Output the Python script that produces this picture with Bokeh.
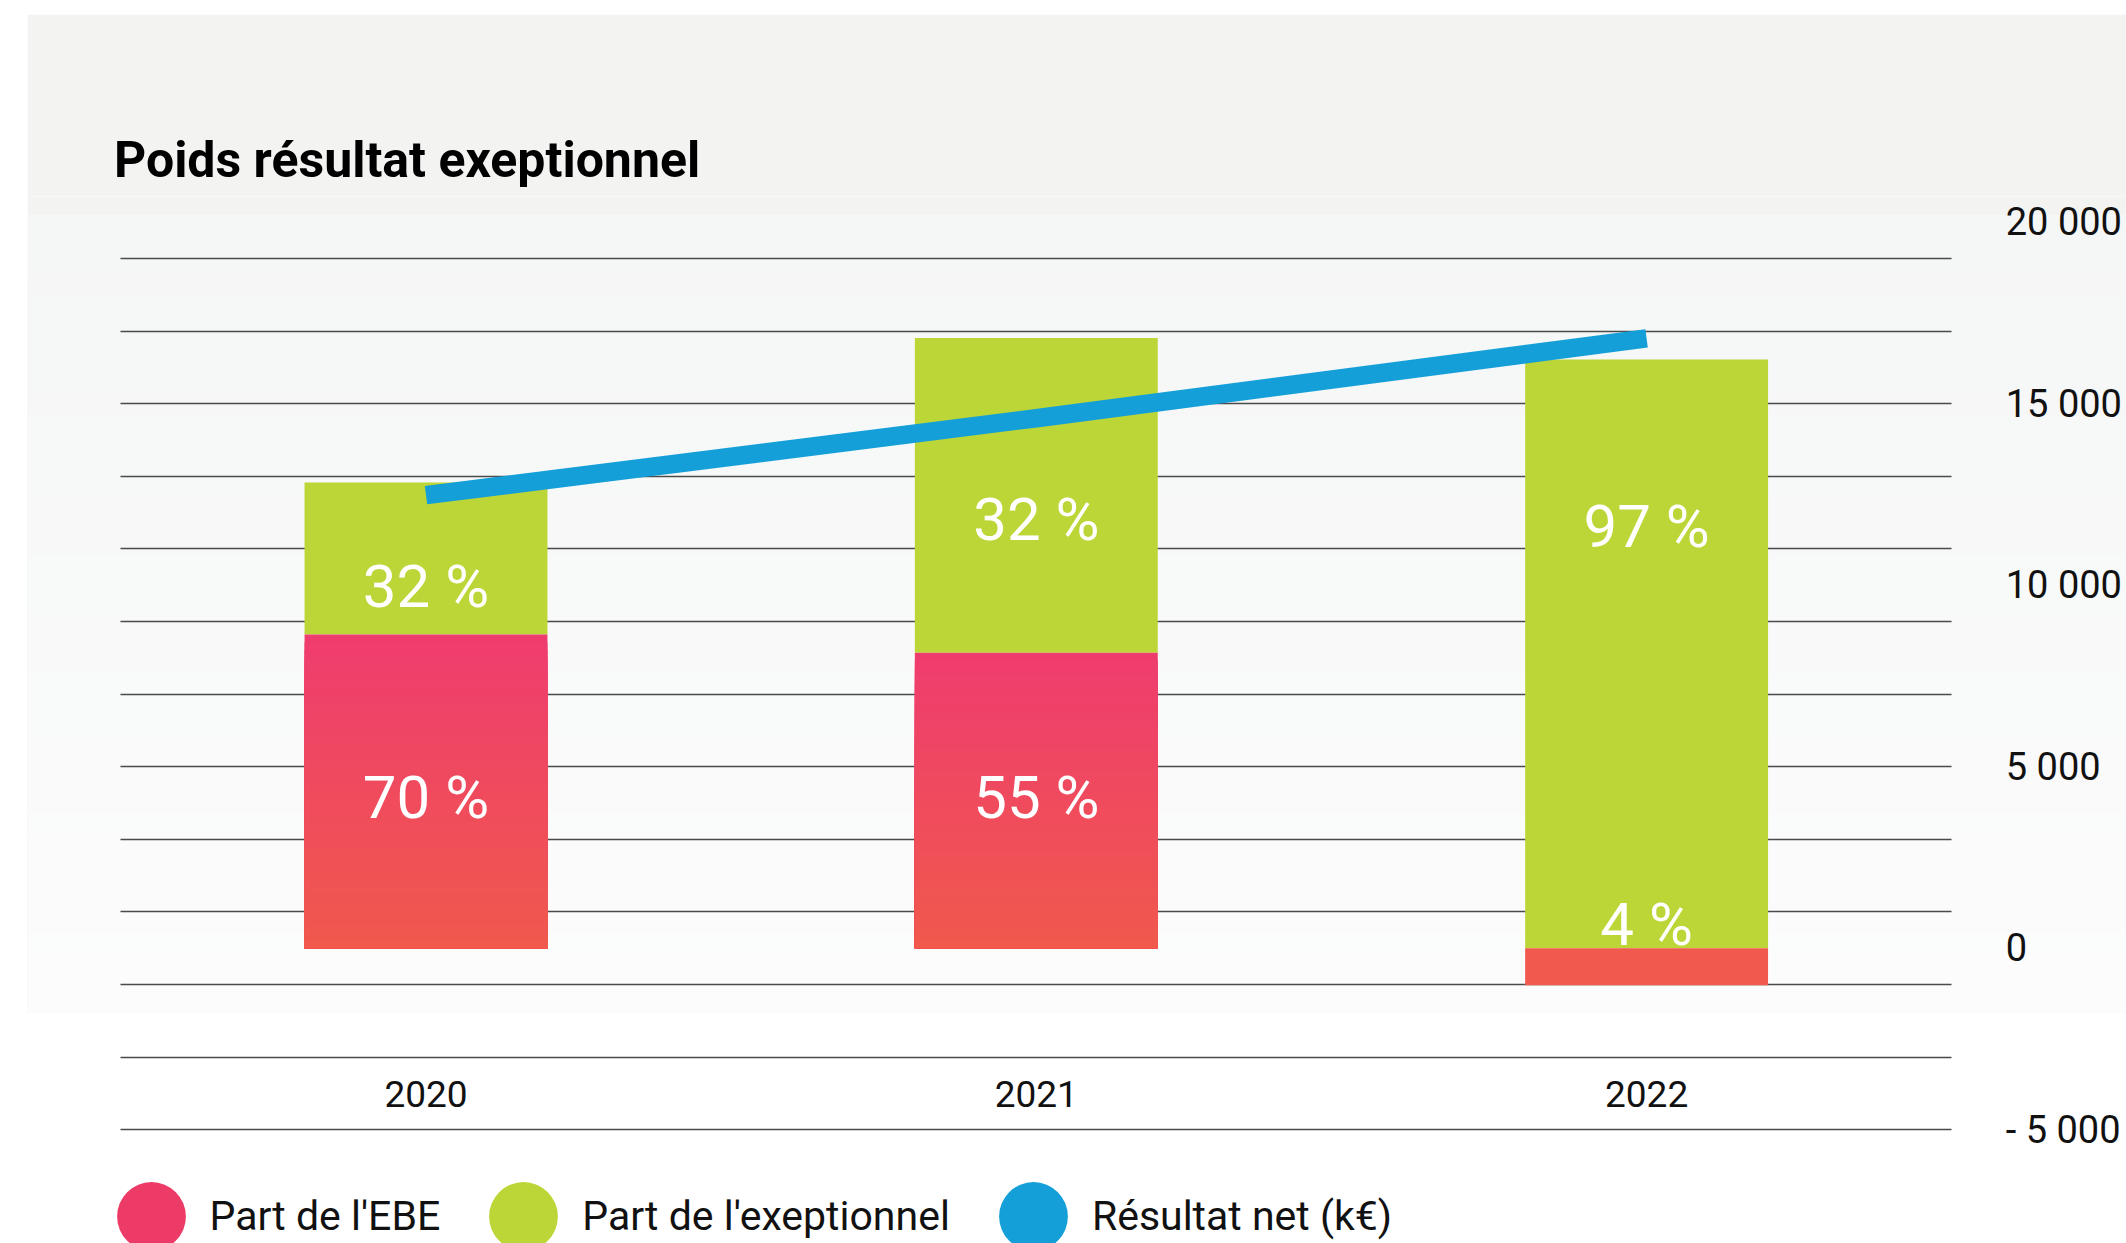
from bokeh.plotting import figure
from bokeh.models import Range1d, FixedTicker, BoxAnnotation, Legend, LegendItem, Grid
from bokeh.core.properties import value
from bokeh.embed import file_html
from bokeh.resources import INLINE

# ---------------- data ----------------
years = ["2020", "2021", "2022"]
ebe_k = [8640, 8140, -1020]              # part de l'EBE (k€)
exceptionnel_k = [4190, 8670, 16220]     # part de l'exceptionnel (k€), stacked
resultat_net_k = [12480, 14600, 16800]   # résultat net (k€)
pct_ebe = ["70 %", "55 %", "4 %"]
pct_exceptionnel = ["32 %", "32 %", "97 %"]
tick_values = [-5000, 0, 5000, 10000, 15000, 20000]
tick_labels = ["- 5 000", "0", "5 000", "10 000", "15 000", "20 000"]
legend_labels = ["Part de l'EBE", "Part de l'exeptionnel", "Résultat net (k€)"]
title_text = "Poids résultat exeptionnel"

# ---------------- layout / style ----------------
PAGE_W, PAGE_H = 2126, 1243
M_LEFT, M_TOP = 27, 14                    # white page margin around the grey panel
W, H = PAGE_W - M_LEFT, PAGE_H - M_TOP    # figure canvas
FRAME_T = 196 - M_TOP                     # frame top inside the canvas
PX_PER_K = 36.3
ZERO_Y = 947.7 - M_TOP
y_end = (ZERO_Y - FRAME_T) / PX_PER_K * 1000
y_start = (ZERO_Y - H) / PX_PER_K * 1000
PX_PER_CAT = 610.3
FIRST_CENTER = 425.5 - M_LEFT
x_start = 0.5 - FIRST_CENTER / PX_PER_CAT
x_end = x_start + W / PX_PER_CAT
x_pos = [i + 0.5 for i in range(len(years))]
n_cat = len(years)

grid_ticks = list(range(-5000, 19001, 2000))
ebe_label_y = [4140, 4140, 650]
exc_label_y = [9970, 11800, 11610]
year_label_y = -4030
BAR_W = 0.398

GREEN = "#bcd637"
BLUE = "#149fd9"
EBE_MID = "#ec3b66"
PINK_TOP = (239, 60, 111)
CORAL_BOTTOM = (240, 89, 76)
PANEL = "#f3f3f2"
FONT = "Roboto"


def hexc(rgb):
    return "#%02x%02x%02x" % tuple(int(round(c)) for c in rgb)


def mix(a, b, t):
    return tuple(a[i] + (b[i] - a[i]) * t for i in range(3))


p = figure(width=W, height=H, x_range=Range1d(x_start, x_end), y_range=Range1d(y_start, y_end),
           x_axis_location=None, y_axis_location="right",
           output_backend="svg", toolbar_location=None,
           min_border_left=0, min_border_right=0,
           min_border_top=FRAME_T, min_border_bottom=0,
           margin=(M_TOP, 0, 0, M_LEFT))
p.outline_line_color = None
p.background_fill_color = "white"
p.border_fill_color = PANEL


def canvas_box(t, b, color):
    return BoxAnnotation(left=0, right=W, top=t, bottom=b,
                         left_units="canvas", right_units="canvas",
                         top_units="canvas", bottom_units="canvas",
                         fill_color=color, fill_alpha=1.0, line_color=None,
                         level="image")

# grey band continues into the frame, then a soft gradient down to white
p.add_layout(canvas_box(0, 215 - M_TOP, PANEL))
N_BG = 40
g_top, g_bot = 215 - M_TOP, 1012 - M_TOP
for k in range(N_BG):
    t = k / (N_BG - 1)
    top = g_top + (g_bot - g_top) * k / N_BG
    p.add_layout(canvas_box(top, g_bot, hexc(mix((245, 246, 246), (252, 252, 252), t))))

# grid (horizontal lines only over the category span)
p.xgrid.visible = False
yg = p.ygrid[0]
yg.ticker = FixedTicker(ticks=grid_ticks)
if "cross_bounds" in Grid.properties():
    yg.grid_line_color = "#4a4a4a"
    yg.grid_line_width = 1.6
    yg.cross_bounds = (0, n_cat)
else:
    yg.visible = False
    p.segment(x0=0, x1=n_cat, y0=grid_ticks, y1=grid_ticks, line_color="#4a4a4a",
              line_width=1.6, level="underlay")

# right axis, fixed at the right end of the category span
ax = p.yaxis[0]
ax.fixed_location = n_cat
ax.ticker = FixedTicker(ticks=tick_values)
ax.major_label_overrides = {v: l for v, l in zip(tick_values, tick_labels)}
ax.axis_line_color = None
ax.major_tick_line_color = None
ax.minor_tick_line_color = None
ax.major_tick_out = 0
ax.major_tick_in = 0
ax.major_label_standoff = 54
ax.major_label_text_font = FONT
ax.major_label_text_font_size = "38px"
ax.major_label_text_color = "#111111"

# green stacked part
base = [max(e, 0) for e in ebe_k]
exc_top = [b + x for b, x in zip(base, exceptionnel_k)]
p.vbar(x=x_pos, bottom=base, top=exc_top, width=BAR_W, fill_color=GREEN, line_color=None)

# red (positive) part with vertical gradient
N = 40
sx, stop, scol = [], [], []
for xp, e in zip(x_pos, ebe_k):
    if e <= 0:
        continue
    for k in range(N - 1, -1, -1):
        sx.append(xp)
        stop.append(e * (k + 1) / N)
        scol.append(hexc(mix(CORAL_BOTTOM, PINK_TOP, (k + 0.5) / N)))
p.vbar(x=sx, bottom=0, top=stop, width=BAR_W, fill_color=scol, line_color=None)

# percentage labels
p.text(x=x_pos, y=ebe_label_y, text=pct_ebe, text_align="center", text_baseline="middle",
       text_color="white", text_font=value(FONT), text_font_size="60px")
p.text(x=x_pos, y=exc_label_y, text=pct_exceptionnel, text_align="center", text_baseline="middle",
       text_color="white", text_font=value(FONT), text_font_size="60px")

# red (negative) part
neg_x = [xp for xp, e in zip(x_pos, ebe_k) if e < 0]
neg_v = [e for e in ebe_k if e < 0]
p.vbar(x=neg_x, bottom=neg_v, top=0, width=BAR_W, fill_color=hexc(CORAL_BOTTOM), line_color=None)

# résultat net line
p.line(x=x_pos, y=resultat_net_k, line_width=18.5, line_color=BLUE, line_cap="butt")

# year labels
p.text(x=x_pos, y=[year_label_y] * n_cat, text=years, text_align="center",
       text_baseline="middle", text_color="#111111", text_font=value(FONT), text_font_size="37px")

# title
p.title.text = title_text
p.title.text_font = FONT
p.title.text_font_style = "bold"
p.title.text_font_size = "50px"
p.title.text_color = "#000000"
p.title.align = "left"
p.title.offset = 113.5 - M_LEFT
p.title.standoff = 15

# legend: invisible (sub-pixel) round markers on the series, round swatches in the legend
series_vals = [ebe_k, exceptionnel_k, resultat_net_k]
leg_colors = [EBE_MID, GREEN, BLUE]
leg_r = [p.ellipse(x=x_pos, y=v, width=0.01, height=0.01, width_units="screen",
                   height_units="screen", fill_color=c, line_color=None)
         for v, c in zip(series_vals, leg_colors)]
legend = Legend(items=[LegendItem(label=l, renderers=[r]) for l, r in zip(legend_labels, leg_r)],
                orientation="horizontal", location=(107.5 - M_LEFT, -16),
                glyph_width=86, glyph_height=86, label_standoff=16, spacing=40,
                padding=0, margin=0, border_line_color=None, background_fill_alpha=0,
                label_text_font=FONT, label_text_font_size="41px", label_text_color="#111111")
p.add_layout(legend)

open("out.html", "w").write(file_html(p, INLINE))
